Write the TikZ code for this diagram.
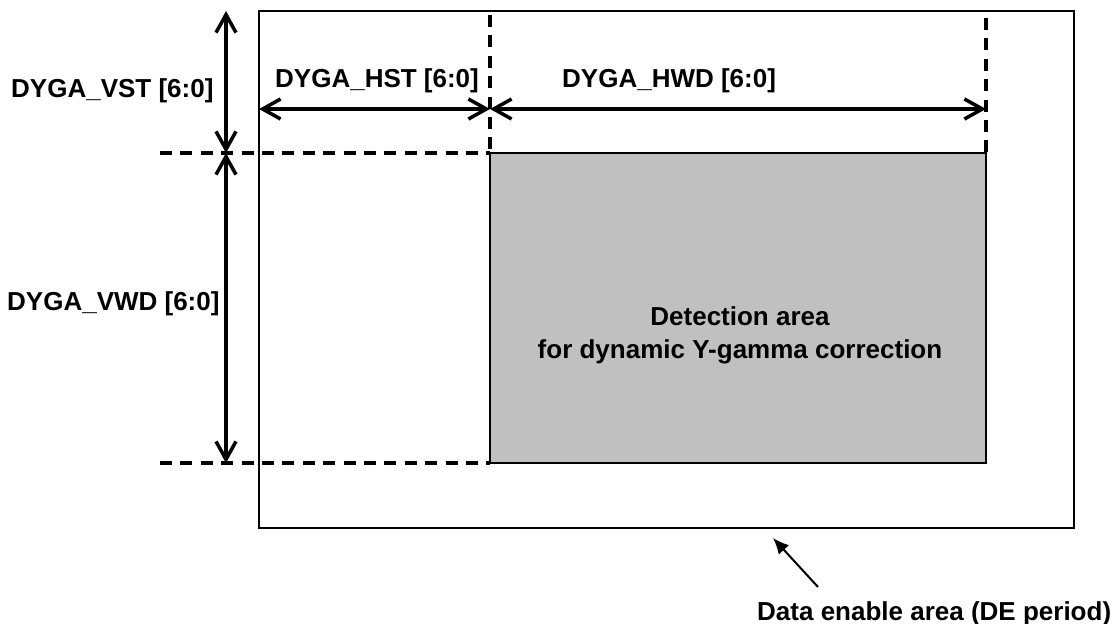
\documentclass[tikz,border=0pt]{standalone}
\usepackage{fontspec}
\setmainfont{Liberation Sans}
\usetikzlibrary{arrows.meta}
\begin{document}
\begin{tikzpicture}[x=1pt,y=-1pt,
  lbl/.style={font=\fontsize{26}{33}\selectfont\bfseries, inner sep=0pt},
  dimline/.style={line width=3.5pt,
    {Straight Barb[length=18pt,width=20pt]}-{Straight Barb[length=18pt,width=20pt]}},
  guide/.style={line width=3.5pt, dash pattern=on 12pt off 8.4pt},
  area/.style={draw, line width=2.5pt, inner sep=0pt, outer sep=0pt, anchor=north west},
  pointer/.style={line width=2pt, -{Latex[length=16pt,width=14pt]}},
]
\useasboundingbox (0,0) rectangle (1120,624);

% data enable area and detection window
\node[area, minimum width=815pt, minimum height=517pt] (de) at (259,11) {};
\node[area, fill={rgb,255:red,192;green,192;blue,192}, minimum width=496pt, minimum height=310pt] (det) at (490,153) {};
\node[lbl, align=center] (detlbl) at (740,335) {Detection area\\for dynamic Y-gamma correction};

% guide lines
\coordinate (gtop) at (160,153);
\coordinate (gbot) at (160,463);
\coordinate (gl) at (490,15);
\coordinate (gr) at (986,18);
\draw[guide] (gtop) -- (det.north west);
\draw[guide] (gbot) -- (det.south west);
\draw[guide] (gl) -- (det.north west);
\draw[guide] (gr) -- (det.north east);

% dimension arrows
\coordinate (v0) at (226,11);
\coordinate (v1) at (226,153);
\coordinate (v2) at (226,463);
\coordinate (h0) at (259,109);
\coordinate (h1) at (490,109);
\coordinate (h2) at (986,109);
\draw[dimline] (v0) -- (v1);
\draw[dimline] (v1) -- (v2);
\draw[dimline] (h0) -- (h1);
\draw[dimline] (h1) -- (h2);

% labels
\node[lbl, anchor=base west] (vst) at (11,97) {DYGA\_VST [6:0]};
\node[lbl, anchor=base west] (vwd) at (7,310) {DYGA\_VWD [6:0]};
\node[lbl, anchor=base west] (hst) at (275,87) {DYGA\_HST [6:0]};
\node[lbl, anchor=base west] (hwd) at (562,87) {DYGA\_HWD [6:0]};
\node[lbl, anchor=base west] (delbl) at (757,620) {Data enable area (DE period)};

% pointer to the data enable area
\coordinate (ptail) at (818,587);
\coordinate (ptip) at (773,538);
\draw[pointer] (ptail) -- (ptip);
\end{tikzpicture}
\end{document}
